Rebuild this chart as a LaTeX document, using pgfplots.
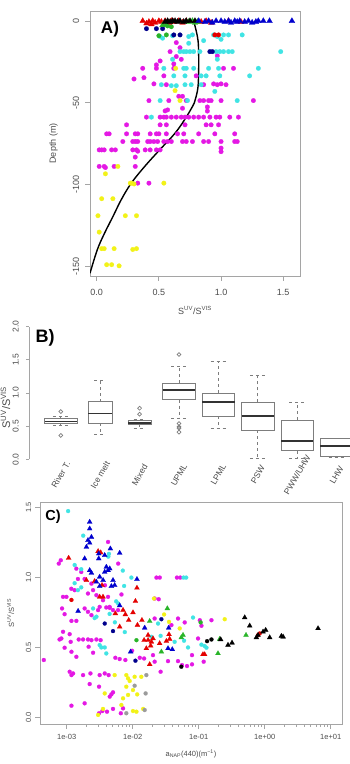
\documentclass[border=0pt]{standalone}
\usepackage{fontspec}
\setmainfont{Liberation Sans}
\usepackage{pgfplots}
\pgfplotsset{compat=1.18}
\usepgfplotslibrary{statistics}

\definecolor{ptmag}{RGB}{228,24,228}
\definecolor{ptcyan}{RGB}{64,228,228}
\definecolor{ptyel}{RGB}{242,242,24}
\definecolor{ptblue}{RGB}{0,0,205}
\definecolor{ptnavy}{RGB}{0,0,140}
\definecolor{ptred}{RGB}{228,0,0}
\definecolor{ptgreen}{RGB}{40,180,40}
\definecolor{ptgray}{RGB}{155,155,155}
\definecolor{framegray}{RGB}{165,165,165}
\definecolor{labgray}{RGB}{75,75,75}
\definecolor{boxgray}{RGB}{125,125,125}

\pgfplotsset{
  rframe/.style={
    scale only axis,
    axis line style={draw=framegray, line width=0.8pt},
    tick style={draw=framegray, line width=0.8pt},
    tick align=outside, tick pos=left,
    major tick length=5pt,
    tick label style={text=labgray, inner sep=0pt},
    label style={text=labgray},
  },
  adot/.style={only marks, color=#1, mark=*, mark size=2.3pt, mark options={solid, draw=#1, fill=#1, line width=0.2pt}},
  atri/.style={only marks, color=#1, mark=triangle*, mark size=3.4pt, mark options={solid, draw=#1, fill=#1, line width=0.2pt}},
  cdot/.style={only marks, color=#1, mark=*, mark size=2.0pt, mark options={solid, draw=#1, fill=#1, line width=0.2pt}},
  ctri/.style={only marks, color=#1, mark=triangle*, mark size=2.9pt, mark options={solid, draw=#1, fill=#1, line width=0.2pt}},
}

\begin{document}
\begin{tikzpicture}
\useasboundingbox (0pt,0pt) rectangle (350pt,764pt);

% ---------------- A) depth profile ----------------
\begin{axis}[rframe,
  at={(90pt,488pt)}, anchor=south west,
  width=210pt, height=265pt,
  xmin=-0.054, xmax=1.635, ymin=-155.7, ymax=6.1,
  xtick={0,0.5,1,1.5}, xticklabels={0.0,0.5,1.0,1.5},
  ytick={-150,-100,-50,0}, yticklabels={-150,-100,-50,0},
  xticklabel style={font=\fontsize{9}{9}\selectfont, anchor=north, yshift=-8.5pt},
  yticklabel style={font=\fontsize{9}{9}\selectfont, xshift=-5.5pt, rotate=90, anchor=south},
  xlabel={S\textsuperscript{UV}/S\textsuperscript{VIS}},
  ylabel={Depth (m)},
  xlabel style={font=\fontsize{9}{9}\selectfont, at={(axis description cs:0.5,-0.129)}, anchor=center},
  ylabel style={font=\fontsize{9}{9}\selectfont, at={(axis description cs:-0.174,0.5)}, anchor=center, rotate=0},
]
\addplot[adot=ptmag] coordinates {
(0.64,-13.2) (0.67,-16.3) (0.59,-18.7) (0.64,-21.7) (0.97,-21.3) (0.51,-24.4) (0.68,-23.4)
(0.48,-26.8) (0.62,-26.2) (0.37,-28.9) (0.48,-28.9) (0.62,-28.9) (1.02,-28.9) (1.10,-28.9)
(0.30,-35.4) (0.38,-34.6) (0.54,-33.5) (0.80,-33.5) (0.46,-38.4) (0.56,-38.9) (0.86,-38.9)
(0.94,-38.4) (0.97,-38.9) (1.00,-38.4) (1.04,-38.9) (0.66,-46) (0.69,-46) (0.42,-48.6)
(0.58,-48.6) (0.72,-48.6) (0.83,-48.6) (0.86,-48.6) (0.90,-48.6) (0.92,-48.6) (1.00,-48.6)
(1.26,-48.6) (0.69,-53.3) (0.89,-52.5) (0.89,-55) (0.55,-54.9) (0.57,-54.3) (0.40,-58.7)
(0.51,-58.7) (0.54,-58.7) (0.56,-58.7) (0.60,-58.7) (0.64,-58.7) (0.68,-58.7) (0.71,-58.7)
(0.74,-58.7) (0.78,-58.7) (0.82,-58.7) (0.86,-58.7) (0.91,-58.7) (0.96,-58.7) (0.99,-58.7)
(1.07,-58.7) (1.14,-58.7) (0.24,-63.4) (0.51,-63.4) (0.56,-63.4) (0.71,-63.4) (0.88,-63.4)
(0.92,-63.4) (0.98,-63.4) (0.08,-68.9) (0.10,-68.9) (0.24,-68.9) (0.31,-68.9) (0.33,-68.9)
(0.43,-68.9) (0.48,-68.9) (0.50,-68.9) (0.56,-68.9) (0.65,-68.9) (0.70,-68.9) (0.82,-68.9)
(0.95,-68.9) (1.11,-68.9) (0.21,-73.6) (0.29,-73.6) (0.31,-73.6) (0.33,-73.6) (0.41,-73.6)
(0.43,-73.6) (0.46,-73.6) (0.49,-73.6) (0.54,-73.6) (0.57,-73.6) (0.60,-73.6) (0.69,-73.6)
(0.72,-73.6) (0.77,-73.6) (0.86,-73.6) (0.90,-73.6) (1.00,-73.6) (1.11,-73.6) (1.13,-73.6)
(0.02,-78.7) (0.04,-78.7) (0.06,-78.7) (0.12,-78.7) (0.15,-78.7) (0.29,-78.7) (0.32,-78.7)
(0.33,-79.5) (0.39,-78.7) (0.43,-78.7) (0.48,-78.7) (0.51,-78.7) (1.00,-77.6) (1.00,-79.8)
(0.31,-83.1) (0.02,-88.8) (0.06,-88.8) (0.07,-89.5) (0.14,-88.8) (0.31,-88.8) (0.33,-99)
(0.42,-99)
};
\addplot[adot=ptyel] coordinates {
(0.63,-42.5) (0.635,-28.9) (0.67,-48.6) (0.17,-88.8) (0.07,-93.3) (0.27,-99) (0.28,-99)
(0.30,-99.5) (0.54,-99) (0.04,-108.5) (0.13,-108.5) (0.01,-118.9) (0.23,-118.9) (0.32,-118.9)
(0.02,-128.9) (0.04,-139) (0.06,-139) (0.14,-139) (0.29,-139.5) (0.32,-139) (0.08,-148.8)
(0.12,-148.8) (0.18,-149.5)
};
\addplot[adot=ptcyan] coordinates {
(0.51,-9.5) (0.53,-10.5) (0.61,-9) (0.74,-9.5) (0.77,-8.5) (0.94,-8.5) (0.97,-9.5) (1.02,-8.5)
(1.06,-8.5) (1.17,-8.5) (0.74,-13.6) (0.86,-12) (1.00,-11.2) (0.67,-18.7) (0.70,-18.7)
(0.72,-18.7) (0.75,-18.7) (0.78,-18.7) (0.83,-18.7) (0.96,-18.7) (0.99,-18.7) (1.02,-18.7)
(1.06,-18.7) (1.09,-18.7) (1.48,-18.7) (0.61,-23.4) (0.97,-23.4) (0.54,-28.9) (0.70,-28.9)
(0.72,-28.9) (0.78,-28.9) (0.90,-28.9) (0.98,-28.9) (1.30,-28.9) (0.62,-33.5) (0.71,-33.5)
(0.84,-33.5) (0.88,-33.5) (0.99,-33.5) (1.23,-33.5) (0.52,-38.9) (0.60,-39.5) (0.64,-39.5)
(0.71,-38.9) (0.76,-38.9) (0.84,-38.9) (0.95,-43) (0.51,-48.6) (1.13,-48.6) (0.44,-58.7)
(0.73,-48.6)
};
\addplot[adot=ptgreen] coordinates {(0.56,-8.5) (0.57,-3) (0.60,-3.5) (0.50,-9)};
\addplot[adot=ptred] coordinates {(0.95,-8.5) (0.98,-8.5)};
\addplot[adot=ptnavy] coordinates {
(0.40,-4.7) (0.48,-4.7) (0.53,-4.7) (0.62,-8.5) (0.67,-8.5) (0.91,-18.7) (0.93,-18.7)
};
\addplot[atri=ptred] coordinates {
(0.37,0) (0.42,-0.5) (0.45,0) (0.47,-1) (0.50,0) (0.52,-0.5) (0.55,0) (0.58,-1) (0.60,0)
(0.62,-0.5) (0.66,0) (0.69,-1) (0.72,0) (0.84,-0.5) (0.88,0) (0.92,-1) (1.06,0) (1.16,-0.5)
(0.44,-2) (0.40,-1.5)
};
\addplot[atri=ptgreen] coordinates {
(0.74,-0.5) (0.77,0) (0.79,-1) (0.81,-0.5) (0.53,-2.5) (0.56,-2)
};
\addplot[atri=black] coordinates {
(0.55,-0.5) (0.57,0) (0.59,-0.5) (0.61,0) (0.63,0) (0.65,-0.5) (0.67,0) (0.70,-0.5) (0.72,0)
(0.75,0) (0.79,0)
};
\addplot[atri=ptblue] coordinates {
(0.82,0) (0.87,-0.5) (0.90,0) (0.93,-1) (0.96,0) (1.00,0) (1.03,-0.5) (1.06,0) (1.08,-1)
(1.11,0) (1.13,-0.5) (1.15,0) (1.19,-0.5) (1.22,0) (1.25,-1) (1.28,-0.5) (1.30,0) (1.34,0)
(1.39,0) (1.57,0)
};
% smoothed profile
\addplot[black, line width=1.4pt, smooth, tension=0.6] coordinates {
(0.78,0) (0.80,-6) (0.815,-12) (0.82,-20) (0.82,-30) (0.815,-40) (0.80,-46) (0.785,-50)
(0.72,-58.7) (0.63,-68.5) (0.506,-78.7) (0.386,-88.8) (0.278,-99) (0.198,-109)
(0.131,-119.3) (0.064,-129.4) (0.005,-139.6) (-0.054,-154)
};
\node[font=\fontsize{17}{17}\selectfont\bfseries] at (axis description cs:0.095,0.932) {A)};
\end{axis}

% ---------------- B) boxplots ----------------
\begin{axis}[scale only axis,
  at={(29.3pt,304.7pt)}, anchor=south west,
  width=320.7pt, height=132.6pt,
  xmin=0.2005, xmax=8.340, ymin=0, ymax=2,
  axis y line*=left, axis x line*=bottom,
  x axis line style={draw=none},
  y axis line style={draw=framegray, line width=0.8pt},
  ytick={0,0.5,1,1.5,2}, yticklabels={0.0,0.5,1.0,1.5,2.0},
  ytick style={draw=framegray, line width=0.8pt},
  tick align=outside, major tick length=3.5pt,
  xtick={1,...,8},
  xticklabels={River T.,Ice melt,Mixed,UPML,LPML,PSW,PWW/UHW,LHW},
  xtick style={draw=none},
  xticklabel style={font=\fontsize{8.5}{8.5}\selectfont, text=labgray, inner sep=0pt, yshift=-12pt, rotate=60, anchor=center},
  yticklabel style={font=\fontsize{8.5}{8.5}\selectfont, text=labgray, inner sep=0pt, xshift=-7pt, rotate=90, anchor=south},
  clip=false,
  boxplot/draw direction=y,
  boxplot/every box/.style={draw=boxgray, line width=0.8pt},
  boxplot/every whisker/.style={draw=boxgray, line width=0.8pt, dashed},
  boxplot/every median/.style={draw=black!80, line width=1.8pt},
]
\addplot[boxplot prepared={draw position=1, median=0.57, upper quartile=0.61, lower quartile=0.54,
  upper whisker=0.64, lower whisker=0.51, box extend=0.82, whisker extend=0.4},
  mark=o, mark size=1.9pt, mark options={draw=boxgray, line width=0.7pt}, draw=boxgray]
  table[row sep=\\, y index=0] {data\\ 0.72\\ 0.36\\};
\addplot[boxplot prepared={draw position=2, median=0.69, upper quartile=0.87, lower quartile=0.54,
  upper whisker=1.19, lower whisker=0.38, box extend=0.6, whisker extend=0.3},
  draw=boxgray] coordinates {};
\addplot[boxplot prepared={draw position=3, median=0.55, upper quartile=0.59, lower quartile=0.53,
  upper whisker=0.60, lower whisker=0.46, box extend=0.58, whisker extend=0.3},
  mark=o, mark size=1.9pt, mark options={draw=boxgray, line width=0.7pt}, draw=boxgray]
  table[row sep=\\, y index=0] {data\\ 0.77\\ 0.68\\};
\addplot[boxplot prepared={draw position=4, median=1.04, upper quartile=1.15, lower quartile=0.90,
  upper whisker=1.40, lower whisker=0.62, box extend=0.82, whisker extend=0.4},
  mark=o, mark size=1.9pt, mark options={draw=boxgray, line width=0.7pt}, draw=boxgray]
  table[row sep=\\, y index=0] {data\\ 1.58\\ 0.54\\ 0.49\\ 0.47\\ 0.41\\};
\addplot[boxplot prepared={draw position=5, median=0.86, upper quartile=1.00, lower quartile=0.65,
  upper whisker=1.48, lower whisker=0.46, box extend=0.82, whisker extend=0.4},
  draw=boxgray] coordinates {};
\addplot[boxplot prepared={draw position=6, median=0.65, upper quartile=0.86, lower quartile=0.44,
  upper whisker=1.26, lower whisker=0.02, box extend=0.82, whisker extend=0.4},
  draw=boxgray] coordinates {};
\addplot[boxplot prepared={draw position=7, median=0.28, upper quartile=0.59, lower quartile=0.13,
  upper whisker=0.86, lower whisker=0.02, box extend=0.82, whisker extend=0.4},
  draw=boxgray] coordinates {};
\addplot[boxplot prepared={draw position=8, median=0.20, upper quartile=0.31, lower quartile=0.05,
  upper whisker=0.31, lower whisker=0.03, box extend=0.82, whisker extend=0.4},
  draw=boxgray] coordinates {};
\node[font=\fontsize{18}{18}\selectfont\bfseries] at (axis description cs:0.049,0.915) {B)};
\node[font=\fontsize{11}{11}\selectfont, text=labgray, rotate=90, anchor=base] at (axis description cs:-0.06,0.39) {S\textsuperscript{UV}/S\textsuperscript{VIS}};
\end{axis}

% ---------------- C) ratio vs a_NAP(440) ----------------
\begin{axis}[rframe,
  at={(40pt,40pt)}, anchor=south west,
  width=302pt, height=222pt,
  xmode=log,
  xmin=3.94e-4, xmax=14.83, ymin=-0.048, ymax=1.541,
  xtick={1e-3,1e-2,1e-1,1,10}, xticklabels={1e-03,1e-02,1e-01,1e+00,1e+01},
  ytick={0,0.5,1,1.5}, yticklabels={0.0,0.5,1.0,1.5},
  minor xtick={},
  xticklabel style={font=\fontsize{7.5}{7.5}\selectfont, anchor=north, yshift=-5.5pt},
  yticklabel style={font=\fontsize{7.5}{7.5}\selectfont, xshift=-3.5pt, rotate=90, anchor=south},
  xlabel={a\textsubscript{NAP}(440)(m\textsuperscript{−1})},
  ylabel={S\textsuperscript{UV}/S\textsuperscript{VIS}},
  xlabel style={font=\fontsize{7.5}{7.5}\selectfont, at={(axis description cs:0.5,-0.135)}, anchor=center},
  ylabel style={font=\fontsize{7.5}{7.5}\selectfont, at={(axis description cs:-0.097,0.5)}, anchor=center, rotate=0},
]
\addplot[cdot=ptmag] coordinates {
(7.59e-4,1.10) (8.13e-4,1.124) (4.23e-3,1.255) (6.03e-3,1.10) (1.40e-3,1.064) (1.66e-3,1.04)
(1.175e-3,0.92) (1.32e-3,0.91) (1.48e-3,0.99) (1.87e-3,0.99) (2.37e-3,0.957) (2.51e-3,0.91)
(2.10e-3,0.886) (2.82e-3,0.874) (4.23e-3,0.862) (8.8e-4,0.862) (9.9e-4,0.862) (3.55e-3,0.838)
(6.76e-3,0.879) (2.29e-2,1.0) (2.57e-2,1.0) (4.68e-2,1.0) (5.25e-2,1.0) (2.15e-2,0.85)
(2.48e-2,0.845) (3.80e-3,0.945) (3.16e-3,0.79) (4.47e-3,0.79)
(8.5e-4,0.779) (9.3e-4,0.738) (1.18e-3,0.69) (1.40e-3,0.69) (8.8e-4,0.612) (1.11e-3,0.595)
(8.3e-4,0.564) (7.8e-4,0.557) (1.15e-3,0.54) (1.52e-3,0.557) (1.77e-3,0.557) (2.10e-3,0.557)
(2.37e-3,0.552) (2.82e-3,0.557) (3.27e-3,0.552) (4.5e-4,0.41) (9.3e-4,0.498) (1.18e-3,0.469)
(1.40e-3,0.433) (2.15e-3,0.505) (2.51e-3,0.462) (1.11e-3,0.326) (1.18e-3,0.302)
(1.25e-3,0.314) (1.77e-3,0.302) (2.29e-3,0.314) (3.16e-3,0.302) (3.77e-3,0.314)
(4.32e-3,0.302) (2.23e-3,0.238) (3.09e-3,0.219) (4.49e-3,0.148) (4.75e-3,0.164)
(5.03e-3,0.179) (1.18e-3,0.083) (1.87e-3,0.10) (3.09e-3,0.029) (3.47e-3,0.045)
(4.08e-3,0.040) (5.03e-3,0.06) (6.61e-3,0.029) (7.14e-3,0.064) (5.46e-3,0.426)
(6.35e-3,0.417) (7.74e-3,0.41) (9.8e-3,0.476) (1.28e-2,0.426) (1.49e-2,0.421) (2.03e-2,0.445)
(2.65e-2,0.326) (2.15e-2,0.398) (3.43e-2,0.402) (4.86e-2,0.402) (5.58e-2,0.374)
(6.65e-2,0.367) (7.92e-2,0.379) (7.92e-2,0.445) (0.119,0.398) (9.77e-2,0.564) (0.156,0.695)
(0.110,0.655) (0.104,0.695) (6.14e-2,0.679) (4.86e-2,0.707) (3.86e-2,0.66) (2.15e-2,0.707)
(1.87e-3,0.779) (2.10e-3,0.755) (2.37e-3,0.731) (2.99e-3,0.767) (3.98e-3,0.786)
(4.49e-3,0.783) (5.03e-3,0.767) (6.0e-3,0.767)
};
\addplot[cdot=ptyel] coordinates {
(2.10e-2,0.85) (5.33e-3,0.302) (8.0e-3,0.302) (8.5e-3,0.279) (9.0e-3,0.26) (1.07e-2,0.29)
(8.0e-3,0.219) (1.01e-2,0.195) (1.17e-2,0.164) (1.35e-2,0.29) (8.5e-3,0.16) (3.77e-3,0.171)
(7.14e-3,0.136) (6.73e-3,0.088) (1.01e-2,0.045) (1.14e-2,0.04) (1.44e-2,0.06) (3.55e-3,0.06)
(2.99e-3,0.017) (0.248,0.702) (5.15e-2,0.636) (2.99e-2,0.736) (3.55e-2,0.683)
};
\addplot[cdot=ptgray] coordinates {
(8.0e-3,0.029) (1.07e-2,0.226) (1.57e-2,0.171) (1.61e-2,0.302) (1.52e-2,0.052)
};
\addplot[cdot=ptcyan] coordinates {
(1.05e-3,1.476) (1.78e-3,1.30) (1.32e-3,1.09) (1.66e-3,1.06) (4.27e-3,1.15) (4.37e-3,1.17)
(7.08e-3,1.05) (9.55e-3,1.0) (7.41e-3,0.94) (5.89e-2,1.0) (6.46e-2,1.0) (1.32e-3,0.96)
(1.48e-3,0.91) (1.66e-3,0.93) (6.03e-3,0.814) (5.62e-3,0.83) (2.51e-3,0.779) (2.82e-3,0.72)
(2.65e-3,0.71) (4.47e-3,0.74) (5.37e-3,0.68) (7.59e-3,0.61) (3.16e-3,0.517) (3.35e-3,0.50)
(3.77e-3,0.50) (3.98e-3,0.457) (1.92e-2,0.576) (2.42e-2,0.671) (2.65e-2,0.583)
(4.32e-2,0.54) (6.89e-2,0.50) (8.20e-2,0.714) (0.110,0.52) (0.123,0.51) (0.131,0.498)
(6.0e-2,0.548)
};
\addplot[cdot=ptnavy] coordinates {
(3.77e-3,0.671) (5.03e-3,0.617) (1.10e-2,0.405) (2.72e-2,0.702)
};
\addplot[cdot=ptgreen] coordinates {(1.14e-2,0.552) (0.107,0.679)};
\addplot[cdot=black] coordinates {(5.45e-2,0.362) (0.134,0.545) (0.156,0.557)};
\addplot[cdot=ptred] coordinates {(1.18e-3,0.84) (0.84,0.60) (0.79,0.588)};
\addplot[ctri=ptgreen] coordinates {
(3.35e-2,0.779) (1.81e-2,0.688) (5.79e-2,0.588) (5.45e-2,0.571) (0.208,0.56) (0.196,0.457)
(0.521,0.588) (2.72e-2,0.469)
};
\addplot[ctri=black] coordinates {
(0.215,0.557) (0.278,0.517) (0.32,0.533) (0.498,0.714) (0.593,0.655) (0.748,0.571)
(0.792,0.588) (0.944,0.612) (1.035,0.624) (1.19,0.571) (1.79,0.581) (1.90,0.576) (6.43,0.636)
};
\addplot[ctri=ptred] coordinates {
(1.07e-3,1.14) (2.99e-3,1.188) (3.27e-3,1.179) (1.99e-3,0.981) (2.65e-3,0.974) (3.43e-3,0.945)
(3.16e-3,0.862) (3.55e-3,0.862) (1.16e-2,0.926) (1.10e-2,0.831) (7.14e-3,0.767)
(7.74e-3,0.736) (1.01e-2,0.75) (8.7e-3,0.695) (6.35e-3,0.648) (5.46e-3,0.743)
(1.18e-2,0.66) (1.38e-2,0.695) (1.71e-2,0.552) (1.92e-2,0.54) (1.49e-2,0.552)
(1.71e-2,0.588) (2.03e-2,0.564) (1.61e-2,0.493) (1.87e-2,0.512) (2.56e-2,0.529)
(3.24e-2,0.545) (3.55e-2,0.593) (3.63e-2,0.56) (1.81e-2,0.379) (0.116,0.45) (0.123,0.45)
};
\addplot[ctri=ptblue] coordinates {
(2.23e-3,1.398) (2.23e-3,1.35) (2.37e-3,1.29) (2.10e-3,1.267) (2.23e-3,1.248) (1.99e-3,1.219)
(1.87e-3,1.136) (3.06e-3,1.171) (3.77e-3,1.16) (4.59e-3,1.207) (6.35e-3,1.176)
(3.99e-3,1.076) (4.23e-3,1.052) (3.77e-3,1.04) (4.49e-3,1.064) (2.23e-3,1.052)
(2.37e-3,1.033) (3.16e-3,1.005) (3.56e-3,0.981) (2.82e-3,0.969) (5.03e-3,0.981)
(5.33e-3,0.945) (1.16e-2,0.988) (4.75e-3,0.938) (3.16e-3,0.938) (3.06e-3,1.136)
(6.35e-3,0.80) (1.49e-3,0.76) (9.3e-3,0.469) (1.52e-2,0.64) (3.43e-2,0.493) (3.98e-2,0.486)
(3.51e-2,0.64)
};
\node[font=\fontsize{14.5}{14.5}\selectfont\bfseries] at (axis description cs:0.043,0.932) {C)};
\end{axis}
\end{tikzpicture}
\end{document}
